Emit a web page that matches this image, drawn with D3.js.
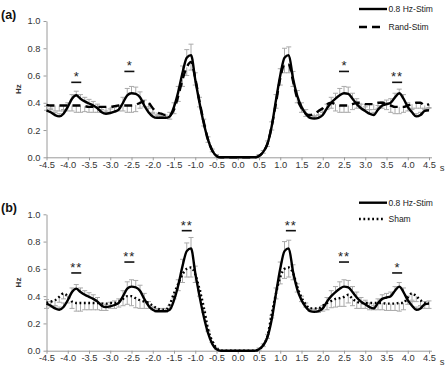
<!DOCTYPE html>
<head>
  <meta charset="utf-8">
  <script src="https://d3js.org/d3.v7.min.js"></script>
  <style>
    body { margin: 0; background: #fff; font-family: "Liberation Sans", Arial, sans-serif; }
    .tick text { font-size: 9.3px; fill: #333; }
    .domain, .tick line { stroke: #9a9a9a; }
    .errbar { stroke: #aaaaaa; stroke-width: 1; }
  </style>
</head>
<body>
<svg id="chart" width="448" height="373"></svg>
<script>
// time grid (s)
var times = [-4.5,-4.4,-4.3,-4.2,-4.1,-4.0,-3.9,-3.8,-3.7,-3.6,-3.5,-3.4,-3.3,-3.2,-3.1,-3.0,-2.9,-2.8,-2.7,-2.6,
  -2.5,-2.4,-2.3,-2.2,-2.1,-2.0,-1.9,-1.8,-1.7,-1.6,-1.5,-1.4,-1.3,-1.2,-1.1,-1.0,-0.9,-0.8,-0.7,-0.6,
  -0.5,-0.4,-0.3,-0.2,-0.1,0.0,0.1,0.2,0.3,0.4,0.5,0.6,0.7,0.8,0.9,1.0,1.1,1.2,1.3,1.4,
  1.5,1.6,1.7,1.8,1.9,2.0,2.1,2.2,2.3,2.4,2.5,2.6,2.7,2.8,2.9,3.0,3.1,3.2,3.3,3.4,
  3.5,3.6,3.7,3.8,3.9,4.0,4.1,4.2,4.3,4.4,4.5];

var xTickValues = [-4.5,-4,-3.5,-3,-2.5,-2,-1.5,-1,-0.5,0,0.5,1,1.5,2,2.5,3,3.5,4,4.5];
var xTickLabels = ["-4.5","-4.0","-3.5","-3.0","-2.5","-2.0","-1.5","-1.0","-0.5","0.0","0.5","1.0","1.5","2.0","2.5","3.0","3.5","4.0","4.5"];
var yTickValues = [0, 0.2, 0.4, 0.6, 0.8, 1.0];
var yTickLabels = ["0.0","0.2","0.4","0.6","0.8","1.0"];

// 0.8 Hz-Stim (Hz)
var stim = [0.345,0.33,0.31,0.30,0.32,0.37,0.43,0.455,0.43,0.41,0.395,0.38,0.36,0.33,0.32,0.325,0.335,0.35,0.40,0.455,
  0.47,0.465,0.44,0.38,0.33,0.30,0.29,0.29,0.29,0.30,0.37,0.48,0.62,0.73,0.75,0.57,0.40,0.25,0.13,0.05,
  0.01,0,0,0,0,0,0,0,0,0,0.01,0.04,0.10,0.23,0.42,0.60,0.73,0.75,0.58,0.45,
  0.37,0.32,0.29,0.285,0.29,0.31,0.36,0.40,0.43,0.455,0.47,0.465,0.43,0.39,0.36,0.34,0.32,0.31,0.35,0.38,
  0.39,0.40,0.44,0.47,0.43,0.37,0.33,0.30,0.31,0.34,0.345];
var stimErr = [0.03,0.03,0.02,0.02,0.03,0.03,0.03,0.03,0.03,0.03,0.03,0.03,0.03,0.02,0.02,0.03,0.03,0.03,0.04,0.05,
  0.05,0.05,0.04,0.04,0.03,0.02,0.02,0.02,0.02,0.03,0.03,0.04,0.05,0.06,0.08,0.05,0.04,0.03,0.02,0.01,
  0.01,0,0,0,0,0,0,0,0,0,0.01,0.01,0.02,0.03,0.04,0.05,0.07,0.06,0.05,0.04,
  0.03,0.03,0.02,0.02,0.02,0.02,0.03,0.04,0.04,0.05,0.05,0.05,0.04,0.04,0.03,0.03,0.03,0.02,0.03,0.03,
  0.03,0.03,0.03,0.03,0.03,0.03,0.03,0.02,0.02,0.02,0.02];

// Rand-Stim (Hz)
var rand = [0.385,0.38,0.38,0.38,0.38,0.38,0.38,0.38,0.38,0.375,0.37,0.37,0.37,0.37,0.37,0.37,0.375,0.38,0.38,0.38,
  0.38,0.385,0.40,0.41,0.40,0.36,0.33,0.32,0.31,0.31,0.35,0.45,0.57,0.66,0.70,0.58,0.41,0.26,0.13,0.05,
  0.01,0,0,0,0,0,0,0,0,0,0.01,0.04,0.10,0.23,0.40,0.58,0.68,0.68,0.56,0.43,
  0.36,0.32,0.31,0.32,0.34,0.36,0.39,0.40,0.39,0.38,0.38,0.38,0.39,0.40,0.40,0.39,0.39,0.39,0.40,0.40,
  0.39,0.38,0.37,0.37,0.37,0.38,0.39,0.40,0.40,0.38,0.39];
var randErr = [0.04,0.03,0.04,0.04,0.04,0.04,0.04,0.05,0.05,0.04,0.04,0.04,0.04,0.04,0.04,0.04,0.04,0.04,0.04,0.05,
  0.05,0.05,0.04,0.04,0.03,0.03,0.02,0.02,0.02,0.03,0.03,0.04,0.05,0.06,0.06,0.05,0.04,0.03,0.02,0.01,
  0.01,0,0,0,0,0,0,0,0,0,0.01,0.01,0.02,0.03,0.04,0.05,0.06,0.06,0.04,0.03,
  0.03,0.02,0.02,0.02,0.03,0.03,0.04,0.04,0.05,0.05,0.05,0.05,0.04,0.04,0.04,0.04,0.04,0.04,0.04,0.04,
  0.04,0.05,0.05,0.05,0.04,0.04,0.04,0.04,0.04,0.03,0.03];

// Sham (Hz)
var sham = [0.35,0.36,0.37,0.395,0.42,0.40,0.36,0.35,0.35,0.35,0.35,0.35,0.35,0.345,0.345,0.35,0.35,0.36,0.38,0.40,
  0.40,0.385,0.37,0.36,0.35,0.33,0.31,0.30,0.30,0.34,0.42,0.49,0.56,0.60,0.61,0.56,0.45,0.32,0.16,0.07,
  0.02,0,0,0,0,0,0,0,0,0,0.01,0.04,0.11,0.27,0.42,0.54,0.60,0.61,0.57,0.47,
  0.39,0.34,0.31,0.31,0.31,0.33,0.35,0.365,0.38,0.385,0.395,0.41,0.38,0.36,0.35,0.35,0.35,0.35,0.35,0.35,
  0.345,0.345,0.345,0.35,0.35,0.39,0.42,0.40,0.37,0.35,0.35];
var shamErr = [0.04,0.04,0.04,0.04,0.04,0.05,0.05,0.06,0.06,0.05,0.05,0.05,0.05,0.05,0.05,0.04,0.04,0.04,0.05,0.06,
  0.07,0.07,0.06,0.05,0.04,0.03,0.03,0.02,0.02,0.03,0.04,0.05,0.06,0.06,0.07,0.06,0.05,0.03,0.02,0.01,
  0.01,0,0,0,0,0,0,0,0,0,0.01,0.01,0.02,0.03,0.04,0.05,0.07,0.07,0.05,0.04,
  0.03,0.02,0.02,0.02,0.03,0.04,0.05,0.05,0.06,0.06,0.07,0.06,0.05,0.05,0.04,0.04,0.05,0.05,0.05,0.05,
  0.05,0.05,0.05,0.06,0.05,0.05,0.05,0.04,0.04,0.04,0.04];

// significance marks: time, level (Hz), label
var sigA = [[-3.8, 0.55, "*"], [-2.55, 0.63, "*"], [2.5, 0.63, "*"], [3.75, 0.55, "**"]];
var sigB = [[-3.8, 0.57, "**"], [-2.55, 0.65, "**"], [-1.2, 0.88, "**"], [1.25, 0.88, "**"], [2.5, 0.65, "**"], [3.75, 0.57, "*"]];

var svg = d3.select("#chart");

var x = d3.scaleLinear().domain([-4.5, 4.5]).range([46.5, 429]);

var styles = {
  solid: { dash: null, width: 2.4 },
  dashed: { dash: "8,5", width: 2.4 },
  dotted: { dash: "1.8,2.6", width: 2.4 }
};

function drawPanel(opt) {
  var y = d3.scaleLinear().domain([0, 1]).range([opt.y0, opt.y1]);
  var g = svg.append("g");

  // axes
  g.append("g")
    .attr("transform", "translate(0," + opt.y0 + ")")
    .call(d3.axisBottom(x).tickValues(xTickValues).tickSize(3).tickSizeOuter(0)
      .tickFormat(function (d, i) { return xTickLabels[i]; }))
    .call(function (a) {
      a.select(".domain").attr("d", "M" + x(-4.5) + ",0.5H432");
      a.selectAll("text").attr("dy", "0.6em").attr("y", 5);
    });

  g.append("g")
    .attr("transform", "translate(" + x(-4.5) + ",0)")
    .call(d3.axisLeft(y).tickValues(yTickValues).tickSize(3).tickSizeOuter(0)
      .tickFormat(function (d, i) { return yTickLabels[i]; }))
    .call(function (a) { a.selectAll("text").attr("x", -6); });

  g.append("text").attr("x", 442).attr("y", opt.y0 + 14)
    .attr("font-size", 9.5).attr("fill", "#333").attr("text-anchor", "middle").text("s");

  g.append("text")
    .attr("transform", "translate(21," + ((opt.y0 + opt.y1) / 2) + ") rotate(-90)")
    .attr("text-anchor", "middle").attr("font-size", 8).attr("font-weight", "bold")
    .attr("fill", "#333").text("Hz");

  g.append("text").attr("x", 1).attr("y", opt.labelY)
    .attr("font-size", 12.5).attr("font-weight", "bold").attr("fill", "#111").text(opt.label);

  // error bars
  function errBars(vals, errs, dir) {
    var eg = g.append("g");
    times.forEach(function (t, i) {
      if (!errs[i]) return;
      var ya = y(vals[i]), yb = y(vals[i] + dir * errs[i]);
      eg.append("line").attr("class", "errbar")
        .attr("x1", x(t)).attr("x2", x(t)).attr("y1", ya).attr("y2", yb);
      eg.append("line").attr("class", "errbar")
        .attr("x1", x(t) - 2.5).attr("x2", x(t) + 2.5).attr("y1", yb).attr("y2", yb);
    });
  }
  errBars(opt.other, opt.otherErr, -1);
  errBars(stim, stimErr, 1);

  var line = d3.line()
    .x(function (d) { return x(d[0]); })
    .y(function (d) { return y(d[1]); })
    .curve(d3.curveMonotoneX);

  function drawSeries(vals, st) {
    g.append("path")
      .datum(times.map(function (t, i) { return [t, vals[i]]; }))
      .attr("d", line)
      .attr("fill", "none")
      .attr("stroke", "#000")
      .attr("stroke-width", st.width)
      .attr("stroke-dasharray", st.dash);
  }
  drawSeries(opt.other, styles[opt.otherStyle]);
  drawSeries(stim, styles.solid);

  // significance
  opt.sig.forEach(function (s) {
    var cx = x(s[0]), cy = y(s[1]);
    g.append("line").attr("x1", cx - 5).attr("x2", cx + 5).attr("y1", cy).attr("y2", cy)
      .attr("stroke", "#111").attr("stroke-width", 1.6);
    g.append("text").attr("x", cx).attr("y", cy - 1).attr("text-anchor", "middle")
      .attr("font-size", 13).attr("fill", "#222")
      .attr("letter-spacing", s[2].length > 1 ? 1 : 0).text(s[2]);
  });

  // legend
  var lg = g.append("g");
  [[opt.legY[0], styles.solid, "0.8 Hz-Stim", 387], [opt.legY[1], styles[opt.otherStyle], opt.otherName, opt.otherLen]]
    .forEach(function (L) {
      lg.append("line").attr("x1", 359).attr("x2", L[3]).attr("y1", L[0]).attr("y2", L[0])
        .attr("stroke", "#000").attr("stroke-width", L[1].width).attr("stroke-dasharray", L[1].dash);
      lg.append("text").attr("x", 388.5).attr("y", L[0]).attr("dy", "0.35em")
        .attr("font-size", 8.5).attr("fill", "#222").text(L[2]);
    });
}

drawPanel({
  y0: 157.3, y1: 21, label: "(a)", labelY: 19,
  other: rand, otherErr: randErr, otherStyle: "dashed", otherName: "Rand-Stim", otherLen: 380,
  sig: sigA, legY: [9, 27]
});

drawPanel({
  y0: 350.7, y1: 214.3, label: "(b)", labelY: 212,
  other: sham, otherErr: shamErr, otherStyle: "dotted", otherName: "Sham", otherLen: 385,
  sig: sigB, legY: [202.7, 219]
});
</script>
</body>
